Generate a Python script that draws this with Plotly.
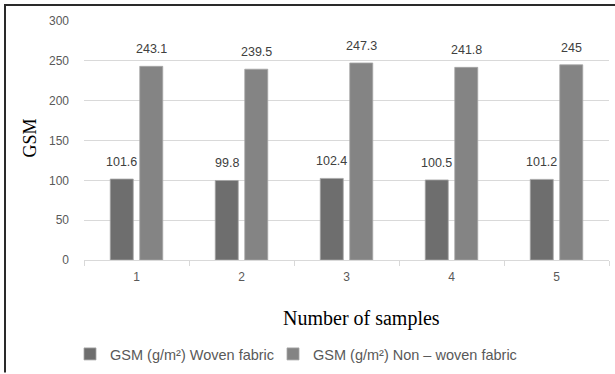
import plotly.graph_objects as go

samples = ["1", "2", "3", "4", "5"]
woven = [101.6, 99.8, 102.4, 100.5, 101.2]
nonwoven = [243.1, 239.5, 247.3, 241.8, 245]
series_names = ["GSM (g/m²) Woven fabric", "GSM (g/m²) Non – woven fabric"]
y_ticks = [0, 50, 100, 150, 200, 250, 300]

SANS = "Liberation Sans, Arial, sans-serif"
SERIF = "Liberation Serif, Times New Roman, serif"

W, H, L, R, T, B = 615, 374, 84, 6, 21, 113
pw, ph = W - L - R, H - T - B
def px(x):
    return (x - L) / pw
def py(y):
    return (H - B - y) / ph

fig = go.Figure()
fig.add_trace(go.Bar(x=samples, y=woven, name=series_names[0], legend="legend",
                     marker=dict(color="#6e6e6e", line=dict(color="#a6a6a6", width=0.8))))
fig.add_trace(go.Bar(x=samples, y=nonwoven, name=series_names[1], legend="legend2",
                     marker=dict(color="#848484", line=dict(color="#a6a6a6", width=0.8))))

annotations = []
for vals, shift in ((woven, -14.75), (nonwoven, 14.75)):
    for i, v in enumerate(vals):
        annotations.append(dict(x=i, y=v, xref="x", yref="y", text=f"{v:g}",
                                showarrow=False, xshift=shift, yshift=17,
                                yanchor="middle", xanchor="center",
                                font=dict(family=SANS, size=12.5, color="#404040")))
annotations.append(dict(x=px(30), y=py(139), xref="paper", yref="paper", text="GSM",
                        showarrow=False, textangle=-90, xanchor="center", yanchor="middle",
                        font=dict(family=SERIF, size=18, color="#000")))
annotations.append(dict(x=px(361), y=py(320), xref="paper", yref="paper",
                        text="Number of samples", showarrow=False,
                        xanchor="center", yanchor="middle",
                        font=dict(family=SERIF, size=20, color="#000")))

legend_font = dict(family=SANS, size=14.5, color="#595959")
fig.update_layout(
    width=W, height=H, autosize=False,
    margin=dict(l=L, r=R, t=T, b=B, pad=0),
    paper_bgcolor="white", plot_bgcolor="white",
    barmode="group", bargap=0.438, bargroupgap=0.22,
    showlegend=True,
    annotations=annotations,
    legend=dict(orientation="h", x=px(70), y=py(354), xanchor="left", yanchor="middle",
                font=legend_font, bgcolor="rgba(0,0,0,0)"),
    legend2=dict(orientation="h", x=px(273), y=py(354), xanchor="left", yanchor="middle",
                 font=legend_font, bgcolor="rgba(0,0,0,0)"),
    xaxis=dict(type="category", range=[-0.5, 4.5], showline=True, linecolor="#d9d9d9",
               linewidth=1, ticks="outside", tickson="boundaries", ticklen=5,
               tickcolor="#d9d9d9", showgrid=False,
               tickfont=dict(family=SANS, size=12, color="#595959"), ticklabelstandoff=6),
    yaxis=dict(range=[0, 300], tickvals=y_ticks, showgrid=True, gridcolor="#d9d9d9",
               gridwidth=1, zeroline=False, showline=False,
               tickfont=dict(family=SANS, size=12, color="#595959"), ticklabelstandoff=14),
    shapes=[
        dict(type="line", xref="paper", yref="paper", x0=px(4), x1=px(615), y0=py(5), y1=py(5),
             line=dict(color="#2a2a2a", width=2)),
        dict(type="line", xref="paper", yref="paper", x0=px(5), x1=px(5), y0=py(4), y1=py(374),
             line=dict(color="#2a2a2a", width=2)),
    ],
)

fig.write_html("out.html")
